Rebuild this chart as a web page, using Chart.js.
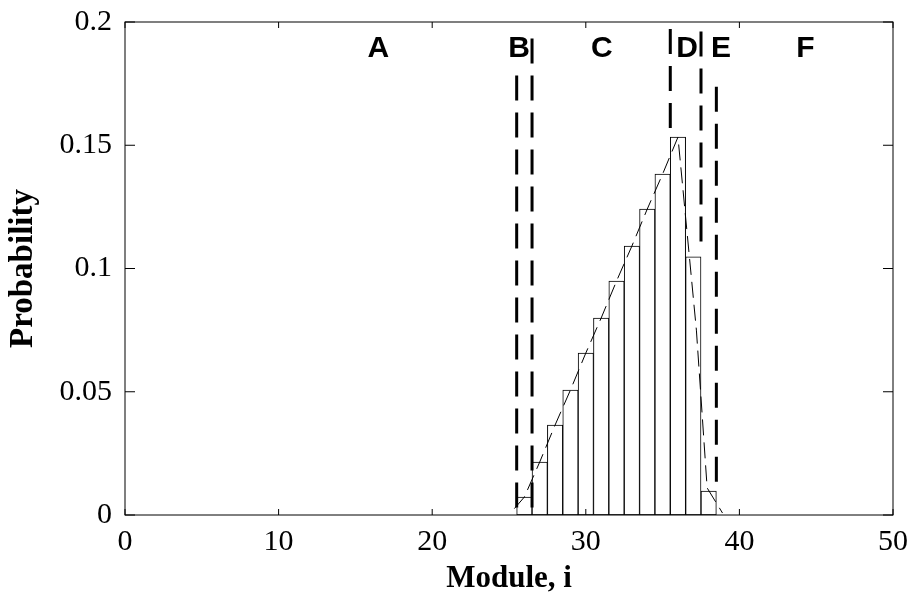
<!DOCTYPE html>
<html>
<head>
<meta charset="utf-8">
<script src="https://cdn.jsdelivr.net/npm/chart.js@4.4.0/dist/chart.umd.min.js"></script>
<style>
body { margin: 0; background: #fff; }
</style>
</head>
<body>
<canvas id="myChart" width="911" height="598"></canvas>
<script>
// histogram of module probabilities
var modules = [26, 27, 28, 29, 30, 31, 32, 33, 34, 35, 36, 37, 38];
var probability = [0.0073, 0.0215, 0.0365, 0.0507, 0.0657, 0.0799, 0.0949, 0.1091, 0.1241, 0.1383, 0.1533, 0.1047, 0.0097];

// thin dashed fit curve
var curveX = [25.35, 26, 27, 28, 29, 30, 31, 32, 33, 34, 35, 36, 37.2, 37.9, 38.9];
var curveY = [0.0026, 0.0073, 0.0215, 0.0365, 0.0507, 0.0657, 0.0799, 0.0949, 0.1091, 0.1241, 0.1383, 0.1533, 0.075, 0.011, 0.0008];

// thick dashed region boundaries
var boundaryX = [25.5, 26.5, 35.5, 37.5, 38.5];
var boundaryLow = [0.003, 0.003, 0.157, 0.111, 0.0135];
var boundaryHigh = [0.183, 0.1976, 0.1976, 0.1976, 0.176];

// region letters
var regionLabels = ['A', 'B', 'C', 'D', 'E', 'F'];
var regionX = [16.5, 25.65, 31.05, 36.6, 38.8, 44.3];
var regionY = 0.186;

var xTicks = [0, 10, 20, 30, 40, 50];
var yTicks = [0, 0.05, 0.1, 0.15, 0.2];
var yTickLabels = ['0', '0.05', '0.1', '0.15', '0.2'];

var serif = "'Liberation Serif', 'Times New Roman', serif";

var datasets = [{
    type: 'bar',
    data: modules.map(function (m, i) { return {x: m, y: probability[i]}; }),
    backgroundColor: '#fff',
    borderColor: '#000',
    borderWidth: 1,
    borderSkipped: false,
    barPercentage: 1,
    categoryPercentage: 1,
    order: 3
}, {
    type: 'line',
    data: curveX.map(function (v, i) { return {x: v, y: curveY[i]}; }),
    borderColor: '#000',
    borderWidth: 1,
    borderDash: [16, 7],
    pointRadius: 0,
    fill: false,
    tension: 0,
    order: 1
}];

boundaryX.forEach(function (bx, i) {
    datasets.push({
        type: 'line',
        data: [{x: bx, y: boundaryLow[i]}, {x: bx, y: boundaryHigh[i]}],
        borderColor: '#000',
        borderWidth: 3,
        borderDash: [25, 12],
        pointRadius: 0,
        fill: false,
        order: 2
    });
});

var frame = {
    id: 'frame',
    afterDraw: function (chart) {
        var c = chart.ctx, a = chart.chartArea;
        var xs = chart.scales.x, ys = chart.scales.y;
        c.save();
        c.strokeStyle = '#000';
        c.lineWidth = 1;
        c.strokeRect(a.left, a.top, a.right - a.left, a.bottom - a.top);
        c.beginPath();
        xTicks.forEach(function (v) {
            var px = xs.getPixelForValue(v);
            c.moveTo(px, a.bottom); c.lineTo(px, a.bottom - 6);
            c.moveTo(px, a.top); c.lineTo(px, a.top + 6);
        });
        yTicks.forEach(function (v) {
            var py = ys.getPixelForValue(v);
            c.moveTo(a.left, py); c.lineTo(a.left + 10, py);
            c.moveTo(a.right, py); c.lineTo(a.right - 10, py);
        });
        c.stroke();
        c.font = "bold 30px 'Liberation Sans', Arial, sans-serif";
        c.fillStyle = '#000';
        c.textAlign = 'center';
        c.textBaseline = 'alphabetic';
        regionLabels.forEach(function (t, i) {
            c.fillText(t, xs.getPixelForValue(regionX[i]), ys.getPixelForValue(regionY));
        });
        c.restore();
    }
};

var ctx = document.getElementById('myChart').getContext('2d');
var myChart = new Chart(ctx, {
    type: 'bar',
    data: { datasets: datasets },
    options: {
        responsive: false,
        animation: false,
        layout: { padding: { left: 0, top: 22, right: 18, bottom: 0 } },
        plugins: {
            legend: { display: false },
            tooltip: { enabled: false }
        },
        scales: {
            x: {
                type: 'linear',
                min: 0,
                max: 50,
                offset: false,
                grid: { display: false, drawTicks: false },
                border: { display: false },
                afterBuildTicks: function (s) { s.ticks = xTicks.map(function (v) { return {value: v}; }); },
                afterFit: function (s) { s.height = 83; s.paddingLeft = 0; s.paddingRight = 0; },
                ticks: {
                    color: '#000',
                    padding: 9,
                    maxRotation: 0,
                    font: { family: serif, size: 30 }
                },
                title: {
                    display: true,
                    text: 'Module, i',
                    color: '#000',
                    padding: { top: 0, bottom: 0 },
                    font: { family: serif, size: 31, weight: 'bold', lineHeight: 1.2 }
                }
            },
            y: {
                min: 0,
                max: 0.2,
                grid: { display: false, drawTicks: false },
                border: { display: false },
                afterBuildTicks: function (s) { s.ticks = yTicks.map(function (v) { return {value: v}; }); },
                afterFit: function (s) { s.width = 125; s.paddingTop = 0; s.paddingBottom = 0; },
                ticks: {
                    color: '#000',
                    padding: 13,
                    font: { family: serif, size: 30 },
                    callback: function (v) { return yTickLabels[yTicks.indexOf(v)]; }
                },
                title: {
                    display: true,
                    text: 'Probability',
                    color: '#000',
                    padding: { top: 4, bottom: 0 },
                    font: { family: serif, size: 33, weight: 'bold', lineHeight: 1.2 }
                }
            }
        }
    },
    plugins: [frame]
});
</script>
</body>
</html>
